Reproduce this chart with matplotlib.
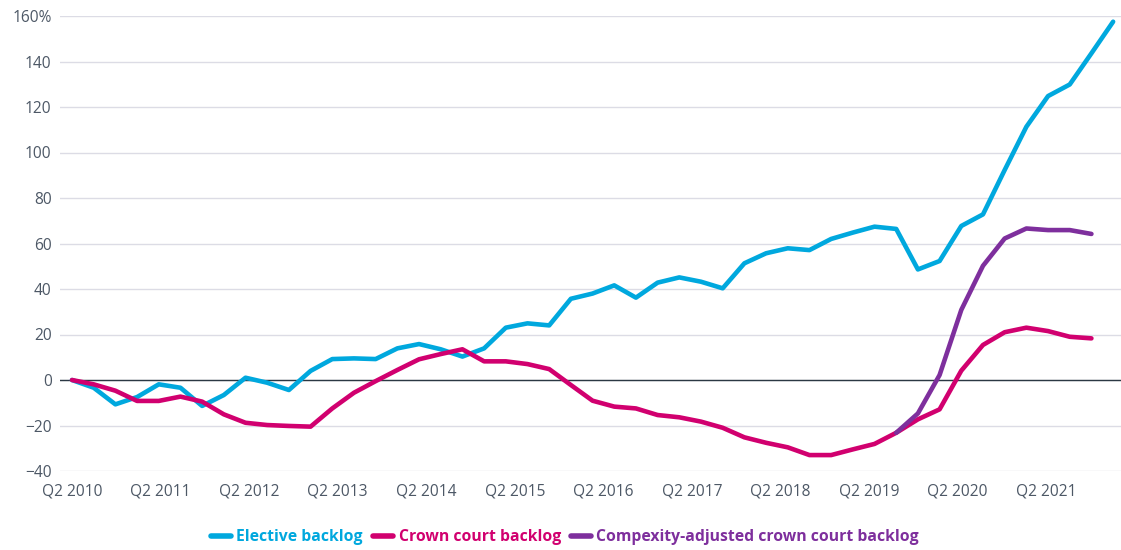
import numpy as np
import matplotlib
matplotlib.use("Agg")
import matplotlib.pyplot as plt

plt.rcParams['font.family'] = ['Open Sans', 'DejaVu Sans']

# quarterly index, Q2 2010 = 0
year_labels = ["Q2 2010", "Q2 2011", "Q2 2012", "Q2 2013", "Q2 2014", "Q2 2015",
               "Q2 2016", "Q2 2017", "Q2 2018", "Q2 2019", "Q2 2020", "Q2 2021"]

elective = [0, -3.4, -10.7, -7.5, -1.9, -3.4, -11.4, -6.6, 1.0, -1.2,
            -4.4, 4.0, 9.2, 9.5, 9.2, 13.9, 15.8, 13.5, 10.3, 13.9,
            23.0, 24.9, 24.0, 35.7, 38.0, 41.6, 36.2, 42.8, 45.1, 43.2,
            40.3, 51.3, 55.7, 57.9, 57.1, 62.0, 64.8, 67.4, 66.4, 48.6,
            52.3, 67.7, 72.8, 92.3, 111.3, 124.8, 129.9, 143.6, 157.5]

crown = [0, -1.9, -4.7, -9.2, -9.2, -7.3, -9.5, -15.1, -18.8, -19.8,
         -20.2, -20.5, -12.5, -5.6, -0.5, 4.4, 9.1, 11.4, 13.5, 8.2,
         8.2, 7.0, 4.8, -2.2, -9.1, -11.7, -12.5, -15.4, -16.4, -18.3,
         -21.0, -25.2, -27.6, -29.6, -33.0, -33.0, -30.5, -28.1, -23.2, -17.3,
         -12.9, 4.1, 15.4, 21.0, 23.0, 21.5, 19.0, 18.3]

adj_start = 38
crown_adjusted = [-23.2, -14.7, 2.2, 30.8, 50.2, 62.2, 66.6, 65.9, 65.9, 64.2]

c_elec = '#00a8de'
c_crown = '#d1006f'
c_adj = '#7e2f9d'
txt = '#4d5866'

fig = plt.figure(figsize=(11.21, 5.5), dpi=100)
ax = fig.add_axes([60/1121, 79/550, 1061/1121, 455/550])

x_e = np.arange(len(elective))
x_c = np.arange(len(crown))
x_a = np.arange(adj_start, adj_start + len(crown_adjusted))

style = dict(lw=3.3, solid_capstyle='round', solid_joinstyle='round')
ax.plot(x_e, elective, color=c_elec, zorder=3, label='Elective backlog', **style)
ax.plot(x_c, crown, color=c_crown, zorder=4, label='Crown court backlog', **style)
ax.plot(x_a, crown_adjusted, color=c_adj, zorder=5,
        label='Compexity-adjusted crown court backlog', **style)

ax.axhline(0, color='#2b3843', lw=1.0, zorder=2)

ax.set_ylim(-40, 160)
ax.set_xlim(-12/21.69, (1121 - 72)/21.69)

yt = np.arange(-40, 161, 20)
ax.set_yticks(yt)
ax.set_yticklabels([f"{v}%" if v == 160 else f"{v}".replace('-', '\u2212') for v in yt])
ax.grid(axis='y', color='#dcdce5', lw=1.0, zorder=0)

# labels sit a touch wider than 4 quarters apart in the original
ax.set_xticks(np.arange(len(year_labels)) * 49 / 12)
ax.set_xticklabels(year_labels)

ax.tick_params(axis='both', length=0, colors=txt, labelsize=11.2)
ax.tick_params(axis='y', pad=6)
ax.tick_params(axis='x', pad=9)
for s in ax.spines.values():
    s.set_visible(False)

leg = fig.legend(loc='center', bbox_to_anchor=(565/1121, 1 - 537/550), ncol=3, frameon=False,
                 handlelength=1.27, handletextpad=0.36, columnspacing=0.64,
                 prop={'family': ['Open Sans', 'DejaVu Sans'], 'weight': 'bold', 'size': 11.3})
for line, text in zip(leg.get_lines(), leg.get_texts()):
    line.set_linewidth(4)
    line.set_solid_capstyle('round')
    text.set_color(line.get_color())

fig.savefig('out.png', dpi=100)
